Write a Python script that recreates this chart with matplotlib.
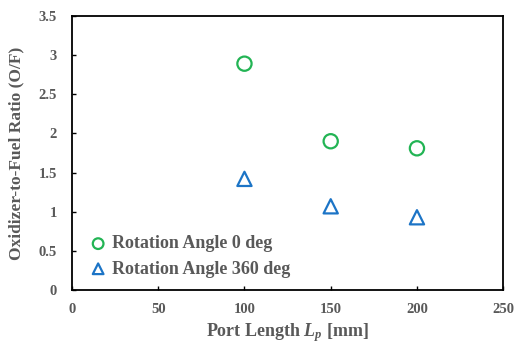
import matplotlib
matplotlib.use("Agg")
import matplotlib.pyplot as plt

# Dados
port_length = [100, 150, 200]
of_angle0 = [2.89, 1.90, 1.81]
of_angle360 = [1.42, 1.07, 0.93]

plt.rcParams['font.family'] = ['Liberation Serif', 'DejaVu Serif']
plt.rcParams['font.weight'] = 'bold'
plt.rcParams['mathtext.fontset'] = 'custom'
plt.rcParams['mathtext.rm'] = 'Liberation Serif:bold'
plt.rcParams['mathtext.it'] = 'Liberation Serif:italic:bold'
plt.rcParams['mathtext.bf'] = 'Liberation Serif:bold'
cinza = '#595959'

fig = plt.figure(figsize=(5.14, 3.45), dpi=100)
ax = fig.add_axes([0.140, 0.159, 0.839, 0.795])

ax.scatter(port_length, of_angle0, marker='o', s=105, facecolors='none',
           edgecolors='#22B454', linewidths=1.6, label='Rotation Angle 0 deg')
ax.scatter(port_length, of_angle360, marker='^', s=105, facecolors='none',
           edgecolors='#1C74C6', linewidths=1.6, label='Rotation Angle 360 deg')

ax.set_xlim(0, 250)
ax.set_ylim(0, 3.5)
ax.set_xticks([0, 50, 100, 150, 200, 250])
ax.set_yticks([0, 0.5, 1, 1.5, 2, 2.5, 3, 3.5])
ax.set_yticklabels(['0', '0.5', '1', '1.5', '2', '2.5', '3', '3.5'])
ax.tick_params(direction='in', length=3, labelsize=10.5, labelcolor=cinza, width=1)
ax.tick_params(axis='y', pad=11)
ax.tick_params(axis='x', pad=9)
for lab in ax.get_xticklabels() + ax.get_yticklabels():
    lab.set_fontweight('bold')
for s in ax.spines.values():
    s.set_linewidth(1.3)
    s.set_color('black')

ax.set_xlabel('Port Length $\\mathit{L_p}$ [mm]', fontsize=13, color=cinza,
              fontweight='bold', labelpad=4)
ax.set_ylabel('Oxidizer-to-Fuel Ratio (O/F)', fontsize=12.5, color=cinza,
              fontweight='bold', labelpad=10)

leg = ax.legend(loc='lower left', frameon=False, fontsize=13, handletextpad=0.0,
                borderaxespad=0.3, labelspacing=0.45, handlelength=1.5,
                markerscale=0.75, bbox_to_anchor=(0.0, 0.0))
for t in leg.get_texts():
    t.set_color(cinza)
    t.set_fontweight('bold')

fig.savefig('out.png', dpi=100)
